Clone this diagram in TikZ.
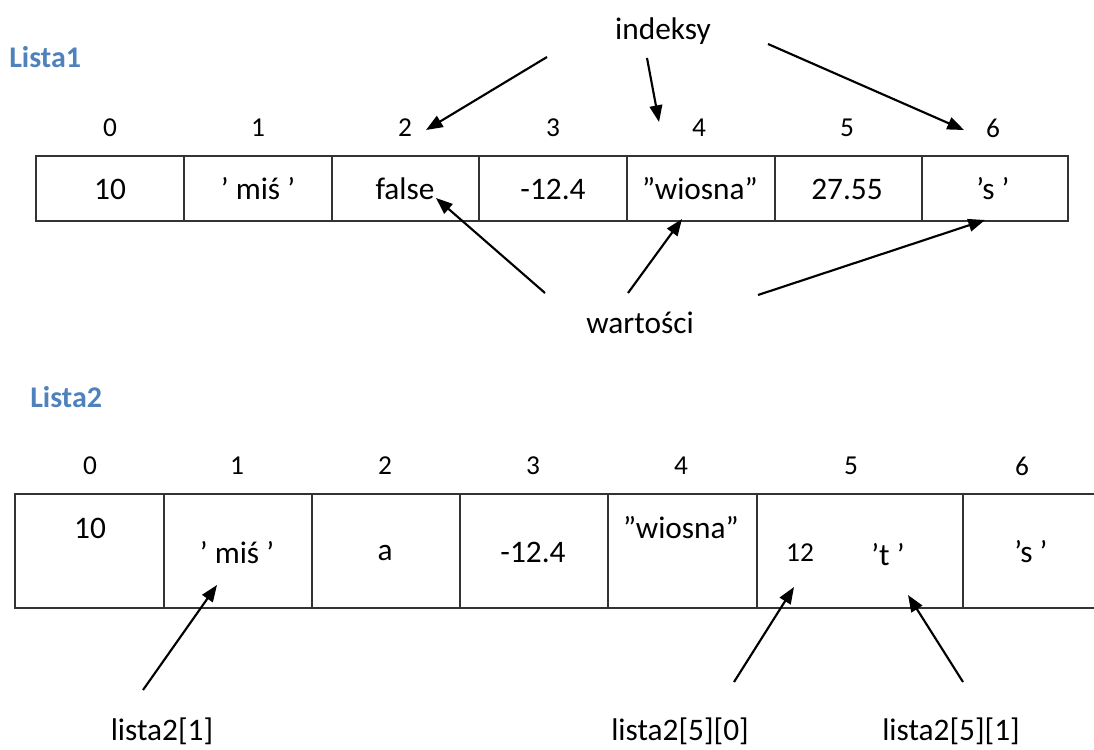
\documentclass[tikz,border=0pt]{standalone}
\usepackage{fontspec}
\setmainfont{Carlito}
\usetikzlibrary{arrows.meta}
\definecolor{headblue}{HTML}{4F81BD}
\begin{document}
\begin{tikzpicture}[x=0.75pt,y=-0.75pt,
  txt/.style={inner sep=0pt, font=\fontsize{23.5}{27}\selectfont},
  idx/.style={inner sep=0pt, font=\fontsize{20.5}{24}\selectfont},
  head/.style={inner sep=0pt, anchor=west, text=headblue, font=\fontsize{22.5}{26}\selectfont\bfseries},
  grid/.style={line width=1.2pt, draw=black!80},
  arr/.style={line width=1.6pt, -{Triangle[length=12.5pt,width=9.5pt]}}]
\useasboundingbox (0,0) rectangle (1094,749);

% Lista1
\node[head] (l1) at (9,57) {Lista1};
\node[txt] (indeksy) at (663,31) {indeksy};
\foreach \i/\x in {0/110,1/258,2/405,3/553,4/699,5/847,6/993}
  \node[idx] (ta\i) at (\x,128) {\i};
\draw[grid] (36,156) rectangle (1068,221);
\foreach \x in {184,332,479,627,775,922}
  \draw[grid] (\x,156) -- (\x,221);
\node[txt] (v0) at (110,189) {10};
\node[txt] (v1) at (258,189) {’ miś ’};
\node[txt] (v2) at (405,189) {false};
\node[txt] (v3) at (553,189) {-12.4};
\node[txt] (v4) at (700,189) {”wiosna”};
\node[txt] (v5) at (847,189) {27.55};
\node[txt] (v6) at (993,189) {’s ’};
\node[txt] (wart) at (640,323) {wartości};

\coordinate (i1s) at (547,57); \coordinate (i1e) at (426,130);
\coordinate (i2s) at (647,58); \coordinate (i2e) at (659,122);
\coordinate (i3s) at (768,44); \coordinate (i3e) at (964,130);
\draw[arr] (i1s) -- (i1e);
\draw[arr] (i2s) -- (i2e);
\draw[arr] (i3s) -- (i3e);
\coordinate (w1s) at (545,293); \coordinate (w1e) at (436,198);
\coordinate (w2s) at (628,293); \coordinate (w2e) at (682,219);
\coordinate (w3s) at (758,295); \coordinate (w3e) at (985,220);
\draw[arr] (w1s) -- (w1e);
\draw[arr] (w2s) -- (w2e);
\draw[arr] (w3s) -- (w3e);

% Lista2
\node[head] (l2) at (30,397) {Lista2};
\foreach \i/\x in {0/90,1/237,2/385,3/533,4/681,5/851,6/1022}
  \node[idx] (tb\i) at (\x,466) {\i};
\draw[grid] (1094,494) -- (15,494) -- (15,608) -- (1094,608);
\foreach \x in {164,312,460,608,757,963}
  \draw[grid] (\x,494) -- (\x,608);
\node[txt] (u0) at (90,528) {10};
\node[txt] (u1) at (237,553) {’ miś ’};
\node[txt] (u2) at (385,553) {a};
\node[txt] (u3) at (533,552) {-12.4};
\node[txt] (u4) at (681,528) {”wiosna”};
\node[idx] (u5a) at (800,553) {12};
\node[txt] (u5b) at (888,555) {’t ’};
\node[txt] (u6) at (1031,552) {’s ’};

\node[txt] (q1) at (162,731) {lista2[1]};
\node[txt] (q2) at (680,731) {lista2[5][0]};
\node[txt] (q3) at (951,731) {lista2[5][1]};
\coordinate (a1s) at (143,690); \coordinate (a1e) at (217,585);
\coordinate (a2s) at (734,682); \coordinate (a2e) at (794,587);
\coordinate (a3s) at (963,682); \coordinate (a3e) at (908,595);
\draw[arr] (a1s) -- (a1e);
\draw[arr] (a2s) -- (a2e);
\draw[arr] (a3s) -- (a3e);
\end{tikzpicture}
\end{document}
